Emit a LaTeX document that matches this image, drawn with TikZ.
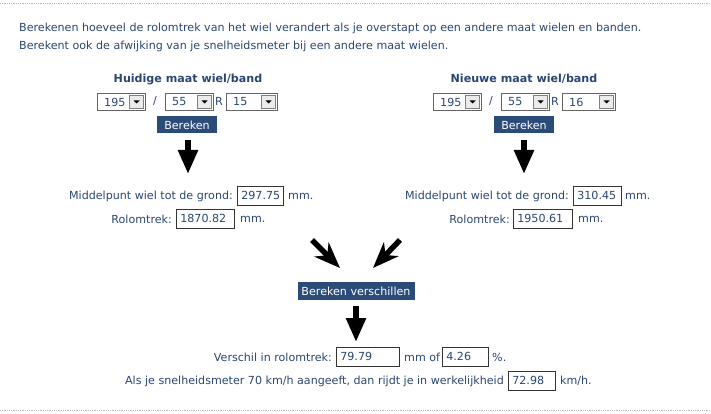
\documentclass[tikz,border=0pt]{standalone}
\usepackage{fontspec}
\usetikzlibrary{arrows.meta}
\setmainfont{DejaVu Sans}
\definecolor{txt}{HTML}{2A4670}
\definecolor{btn}{HTML}{2B4C78}
\definecolor{sep}{HTML}{B8B8B8}
\begin{document}
\begin{tikzpicture}[x=1pt,y=-1pt,
  every node/.style={text=txt,font=\fontsize{11.1}{13}\selectfont,inner sep=0pt},
  lab/.style={anchor=east},
  labw/.style={anchor=west},
  field/.style={draw=black!80,line width=0.7pt,fill=white,anchor=west,text=txt,inner xsep=4pt,minimum height=19pt,text height=8pt,text depth=2pt,text width=#1-8pt,align=left},
  sel/.style={draw=black!60,line width=0.6pt,fill=white,minimum height=17pt,anchor=west},
  btnbox/.style={fill=btn,text=white,minimum height=17pt},
  bigarrow/.style={-{Triangle[width=19pt,length=24pt]},line width=5.5pt,black},
  diagarrow/.style={-{Stealth[width=20pt,length=26pt,inset=8pt]},line width=5.5pt,black}]
\useasboundingbox (0,0) rectangle (711,414);
\draw[sep,densely dotted,line width=0.8pt] (0,3) -- (711,3);
\draw[sep,densely dotted,line width=0.8pt] (0,410) -- (711,410);
\node[labw] (t1) at (19,28) {Berekenen hoeveel de rolomtrek van het wiel verandert als je overstapt op een andere maat wielen en banden.};
\node[labw] (t2) at (19,46) {Berekent ook de afwijking van je snelheidsmeter bij een andere maat wielen.};
\newcommand{\selbox}[4]{% name, left x, width, value
  \node[sel,minimum width=#3pt] (#1) at (#2,102) {};
  \node[anchor=west] (#1v) at ([xshift=7pt]#1.west) {#4};
  \node[draw=black!50,fill=black!8,minimum width=14pt,minimum height=13pt] (#1b) at ([xshift=-9pt]#1.east) {};
  \fill[black] ([xshift=-3pt,yshift=1.5pt]#1b.center) -- ([xshift=3pt,yshift=1.5pt]#1b.center) -- ([yshift=-1.5pt]#1b.center) -- cycle;
}
% left
\node[font=\fontsize{11.1}{13}\selectfont\bfseries] (h1) at (188,79) {Huidige maat wiel/band};
\selbox{a1}{97}{48}{195}
\node (s1) at (155,101) {/};
\selbox{a2}{165}{48}{55}
\node (r1) at (219,101) {R};
\selbox{a3}{226}{51}{15}
\node[btnbox,minimum width=60pt] (b1) at (187,125) {Bereken};
\coordinate (p1) at (188,140); \coordinate (q1) at (188,174);
\draw[bigarrow] (p1) -- (q1);
\node[lab] (m1) at (233,196) {Middelpunt wiel tot de grond:};
\node[field=46pt] (mf1) at (237,196) {297.75};
\node[labw] (mm1) at (288,196) {mm.};
\node[lab] (r1l) at (172,219) {Rolomtrek:};
\node[field=58pt] (rf1) at (176,219) {1870.82};
\node[labw] (mm2) at (240,219) {mm.};
% right
\node[font=\fontsize{11.1}{13}\selectfont\bfseries] (h2) at (524,79) {Nieuwe maat wiel/band};
\selbox{c1}{433}{48}{195}
\node (s2) at (491,101) {/};
\selbox{c2}{501}{48}{55}
\node (r2) at (555,101) {R};
\selbox{c3}{562}{53}{16}
\node[btnbox,minimum width=60pt] (b2) at (524,125) {Bereken};
\coordinate (p2) at (524,140); \coordinate (q2) at (524,174);
\draw[bigarrow] (p2) -- (q2);
\node[lab] (m2) at (569,196) {Middelpunt wiel tot de grond:};
\node[field=48pt] (mf2) at (573,196) {310.45};
\node[labw] (mm3) at (625,196) {mm.};
\node[lab] (r2l) at (510,219) {Rolomtrek:};
\node[field=59pt] (rf2) at (513,219) {1950.61};
\node[labw] (mm4) at (578,219) {mm.};
% middle
\coordinate (d1) at (312,240); \coordinate (e1) at (340,268);
\coordinate (d2) at (400,240); \coordinate (e2) at (373,268);
\draw[diagarrow] (d1) -- (e1);
\draw[diagarrow] (d2) -- (e2);
\node[btnbox,minimum width=117pt,minimum height=18pt] (bv) at (356,291) {Bereken verschillen};
\coordinate (p3) at (356,306); \coordinate (q3) at (356,342);
\draw[bigarrow] (p3) -- (q3);
\node[lab] (v1) at (332,357) {Verschil in rolomtrek:};
\node[field=63pt] (vf1) at (336,357) {79.79};
\node[labw] (v2) at (404,357) {mm of};
\node[field=46pt] (vf2) at (442,357) {4.26};
\node[labw] (v3) at (492,357) {\%.};
\node[lab] (w1) at (504,381) {Als je snelheidsmeter 70 km/h aangeeft, dan rijdt je in werkelijkheid};
\node[field=47pt] (wf) at (508,381) {72.98};
\node[labw] (w2) at (560,381) {km/h.};
\end{tikzpicture}
\end{document}
